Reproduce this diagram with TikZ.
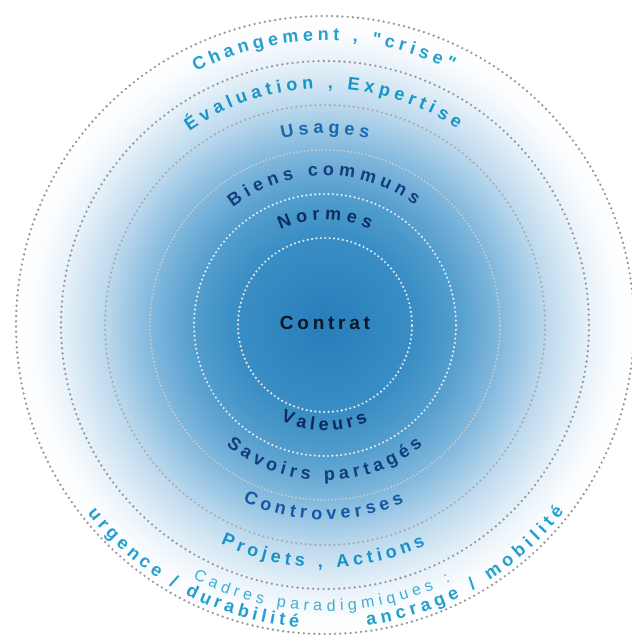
\documentclass[tikz,border=0pt]{standalone}
\usepackage{fontspec}
\newfontfamily\lsans{Liberation Sans}
\usetikzlibrary{decorations.text}
\definecolor{g0}{RGB}{38,126,186}
\definecolor{g1}{RGB}{58,142,196}
\definecolor{g2}{RGB}{82,157,205}
\definecolor{g3}{RGB}{130,184,221}
\definecolor{g4}{RGB}{188,217,237}
\definecolor{g5}{RGB}{232,242,249}
\definecolor{g6}{RGB}{250,252,254}
\pgfdeclareradialshading{bgshade}{\pgfpoint{0bp}{0bp}}{color(0bp)=(g0); color(90bp)=(g1); color(130bp)=(g2); color(175bp)=(g3); color(220bp)=(g4); color(264bp)=(g5); color(290bp)=(g6); color(309bp)=(white); color(330bp)=(white)}
\definecolor{cCh}{RGB}{38,160,206}
\definecolor{cEv}{RGB}{25,148,200}
\definecolor{cUs}{RGB}{24,105,175}
\definecolor{cBi}{RGB}{18,62,125}
\definecolor{cNo}{RGB}{14,45,95}
\definecolor{cCo}{RGB}{10,22,38}
\definecolor{cVa}{RGB}{14,42,92}
\definecolor{cSa}{RGB}{18,60,122}
\definecolor{cCt}{RGB}{20,88,165}
\definecolor{cPr}{RGB}{25,145,200}
\definecolor{cCa}{RGB}{60,175,212}
\definecolor{cUr}{RGB}{35,160,206}
\definecolor{dotgrey}{RGB}{150,152,158}
\definecolor{dotlight}{RGB}{168,170,175}
\definecolor{dotbeige}{RGB}{205,205,205}
\definecolor{dotwhite}{RGB}{228,234,240}
\newcommand\fB{\lsans\bfseries\fontsize{18pt}{21pt}\selectfont}
\newcommand\fC{\lsans\bfseries\fontsize{19pt}{22pt}\selectfont}
\newcommand\fR{\lsans\fontsize{16pt}{19pt}\selectfont}
\newcommand\arctxt[6]{%
  \path[decorate, decoration={text along path, text align=fit to path, text color=#1, text={|#2|#6}}]
    (#4:#3) arc[start angle=#4, end angle=#5, radius=#3];}
\tikzset{
  ringgrey/.style={draw=dotgrey, line width=2.6pt, line cap=round, dash pattern=on 0pt off 5.2pt},
  ringlight/.style={draw=dotlight, line width=2.4pt, line cap=round, dash pattern=on 0pt off 4.8pt},
  ringbeige/.style={draw=dotbeige, line width=2pt, line cap=round, dash pattern=on 0pt off 3.6pt},
  ringwhite/.style={draw=dotwhite, line width=2.4pt, line cap=round, dash pattern=on 0pt off 4.4pt},
}
\begin{document}
\begin{tikzpicture}[x=1pt,y=1pt]
\useasboundingbox (-325pt,-310pt) rectangle (307pt,325pt);
\fill[white] (-325pt,-310pt) rectangle (307pt,325pt);
\begin{scope}
\clip (-325pt,-310pt) rectangle (307pt,325pt);
\begin{scope}
\clip (0,0) circle[radius=309pt];
\pgftext[at=\pgfpointorigin]{\pgfuseshading{bgshade}}
\end{scope}
\draw[ringgrey] (0,0) circle[radius=309pt];
\draw[ringgrey] (0,0) circle[radius=264pt];
\draw[ringlight] (0,0) circle[radius=220pt];
\draw[ringbeige] (0,0) circle[radius=175pt];
\draw[ringwhite] (0,0) circle[radius=131pt];
\draw[ringwhite] (0,0) circle[radius=87pt];
\end{scope}
% top texts
\arctxt{cCh}{\fB}{284.5pt}{117}{63.5}{Changement , "crise"}
\arctxt{cEv}{\fB}{236.5pt}{125}{56}{Évaluation , Expertise}
\arctxt{cUs}{\fB}{191.5pt}{103}{77}{Usages}
\arctxt{cBi}{\fB}{149.5pt}{128}{53}{Biens communs}
\arctxt{cNo}{\fB}{105.5pt}{115}{65}{Normes}
% centre
\path[decorate, decoration={text along path, text align=fit to path, text color=cCo, text={|\fC|Contrat}}] (-45pt,-4.5pt) -- (45pt,-4.5pt);
% bottom texts
\arctxt{cVa}{\fB}{105.5pt}{245}{294}{Valeurs}
\arctxt{cSa}{\fB}{155.5pt}{230.5}{309}{Savoirs partagés}
\arctxt{cCt}{\fB}{194.5pt}{245}{294}{Controverses}
\arctxt{cPr}{\fB}{242.5pt}{244.5}{294.5}{Projets , Actions}
\arctxt{cCa}{\fR}{286pt}{242.5}{296}{Cadres paradigmiques :}
\arctxt{cUr}{\fB}{303.5pt}{218.5}{265}{urgence / durabilité}
\arctxt{cUr}{\fB}{303.5pt}{278}{322}{ancrage / mobilité}
\end{tikzpicture}
\end{document}
